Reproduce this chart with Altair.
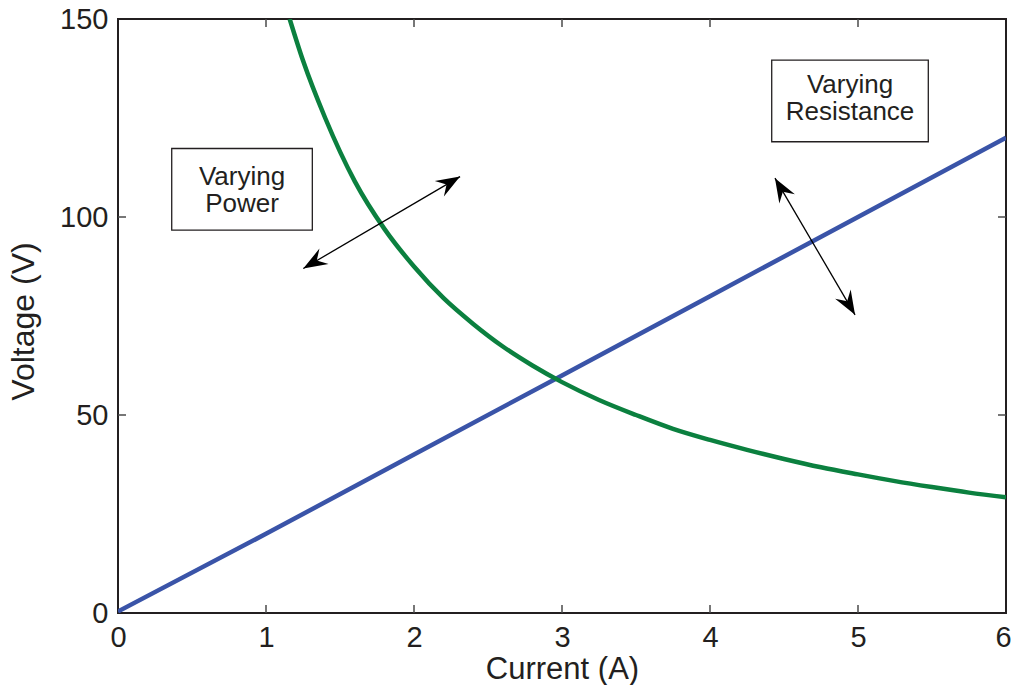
import math
import altair as alt
import pandas as pd

# ---- data ----
blue_current = [0, 1, 2, 3, 4, 5, 6]
blue_voltage = [0.4, 20, 40, 60, 80, 100, 120]

green_current = [1.16, 1.25, 1.4, 1.6, 1.8, 2.0, 2.2, 2.4, 2.6, 2.8, 3.0, 3.25, 3.5,
                 3.75, 4.0, 4.25, 4.5, 4.75, 5.0, 5.25, 5.5, 5.75, 6.0]
green_voltage = [150, 139.5, 125, 109, 97, 87.5, 79.5, 73, 67.3, 62.5, 58.3, 53.8, 50,
                 46.5, 43.7, 41.2, 38.9, 36.8, 35, 33.3, 31.8, 30.4, 29.2]

x_ticks = [0, 1, 2, 3, 4, 5, 6]
y_ticks = [0, 50, 100, 150]
x_inner_ticks = [1, 2, 3, 4, 5]
y_inner_ticks = [50, 100]

box_names = ["Varying Power", "Varying Resistance"]
box_x1 = [0.363, 4.417]
box_x2 = [1.313, 5.475]
box_y1 = [96.7, 119.0]
box_y2 = [117.3, 139.6]
label_x = [0.838, 4.946]
label_y = [108.1, 131.2]
label_lines = [["Varying", "Power"], ["Varying", "Resistance"]]

arrow_xa = [1.252, 4.439]
arrow_ya = [87.0, 109.8]
arrow_xb = [2.311, 4.980]
arrow_yb = [110.2, 75.3]

# ---- layout ----
W, H = 888, 594
XMAX, YMAX = 6, 150
INK = "#231f20"
FONT = "Liberation Sans"

xs = alt.Scale(domain=[0, XMAX], nice=False, zero=False)
ys = alt.Scale(domain=[0, YMAX], nice=False, zero=False)

blue_df = pd.DataFrame({"I": blue_current, "V": blue_voltage})
green_df = pd.DataFrame({"I": green_current, "V": green_voltage})

xaxis = alt.Axis(values=x_ticks, format="d", ticks=False, domain=False, grid=False,
                 labelFlush=False, labelOverlap=False,
                 labelOffset={"condition": {"test": f"datum.value == {XMAX}", "value": -3},
                              "value": 0},
                 labelFontSize=29, labelFont=FONT, labelColor=INK, labelPadding=10,
                 title="Current (A)", titleFontSize=31, titleFont=FONT,
                 titleFontWeight="normal", titleColor=INK,
                 titleBaseline="alphabetic", titleY=65)
yaxis = alt.Axis(values=y_ticks, format="d", ticks=False, domain=False, grid=False,
                 labelFlush=False, labelOverlap=False,
                 labelFontSize=29, labelFont=FONT, labelColor=INK, labelPadding=10,
                 title="Voltage (V)", titleFontSize=32, titleFont=FONT,
                 titleFontWeight="normal", titleColor=INK,
                 titleBaseline="alphabetic", titleX=-85, titleY=302)

blue = alt.Chart(blue_df).mark_line(color="#3a54a8", strokeWidth=4.5, clip=True).encode(
    x=alt.X("I:Q", scale=xs, axis=xaxis),
    y=alt.Y("V:Q", scale=ys, axis=yaxis),
)
green = alt.Chart(green_df).mark_line(color="#0b803f", strokeWidth=4.5, clip=True,
                                      interpolate="monotone").encode(
    x=alt.X("I:Q", scale=xs),
    y=alt.Y("V:Q", scale=ys),
)

# inward ticks (box style)
tx = pd.DataFrame({"t": x_inner_ticks})
ty = pd.DataFrame({"t": y_inner_ticks})
TL = 8
tick_style = dict(color="#4a4a4a", strokeWidth=1.5)
ticks_bottom = alt.Chart(tx).mark_rule(**tick_style).encode(
    x=alt.X("t:Q", scale=xs), y=alt.value(H), y2=alt.value(H - TL))
ticks_top = alt.Chart(tx).mark_rule(**tick_style).encode(
    x=alt.X("t:Q", scale=xs), y=alt.value(0), y2=alt.value(TL))
ticks_left = alt.Chart(ty).mark_rule(**tick_style).encode(
    y=alt.Y("t:Q", scale=ys), x=alt.value(0), x2=alt.value(TL))
ticks_right = alt.Chart(ty).mark_rule(**tick_style).encode(
    y=alt.Y("t:Q", scale=ys), x=alt.value(W), x2=alt.value(W - TL))

# annotation boxes
box_df = pd.DataFrame({"name": box_names, "x1": box_x1, "x2": box_x2,
                       "y1": box_y1, "y2": box_y2})
boxes = alt.Chart(box_df).mark_rect(fill="white", fillOpacity=0, stroke=INK,
                                    strokeWidth=1.3).encode(
    x=alt.X("x1:Q", scale=xs), x2="x2:Q",
    y=alt.Y("y1:Q", scale=ys), y2="y2:Q")

lab_df = pd.DataFrame({"x": label_x, "y": label_y, "txt": label_lines})
labels = alt.Chart(lab_df).mark_text(font=FONT, fontSize=26, color=INK, align="center",
                                     baseline="alphabetic", lineHeight=27).encode(
    x=alt.X("x:Q", scale=xs), y=alt.Y("y:Q", scale=ys), text="txt")

# double-headed arrows
arr_df = pd.DataFrame({"xa": arrow_xa, "ya": arrow_ya, "xb": arrow_xb, "yb": arrow_yb})
shafts = alt.Chart(arr_df).mark_rule(color="black", strokeWidth=1.3).encode(
    x=alt.X("xa:Q", scale=xs), y=alt.Y("ya:Q", scale=ys), x2="xb:Q", y2="yb:Q")

PXX, PXY = W / XMAX, H / YMAX


def head_angle(x_from, y_from, x_to, y_to):
    dx = (x_to - x_from) * PXX
    dy = -(y_to - y_from) * PXY
    return math.degrees(math.atan2(dx, -dy)) % 360


hx, hy, ha = [], [], []
for xa, ya, xb, yb in zip(arrow_xa, arrow_ya, arrow_xb, arrow_yb):
    hx += [xa, xb]
    hy += [ya, yb]
    ha += [head_angle(xb, yb, xa, ya), head_angle(xa, ya, xb, yb)]
head_df = pd.DataFrame({"x": hx, "y": hy, "a": ha})
HEAD = "M0,0 L0.75,2 L0,1.3 L-0.75,2 Z"
heads = alt.Chart(head_df).mark_point(shape=HEAD, filled=True, fill="black",
                                      strokeWidth=0, opacity=1, size=576).encode(
    x=alt.X("x:Q", scale=xs), y=alt.Y("y:Q", scale=ys),
    angle=alt.Angle("a:Q", scale=None))

chart = alt.layer(blue, green, ticks_bottom, ticks_top, ticks_left, ticks_right,
                  boxes, labels, shafts, heads).properties(
    width=W, height=H,
    background="white",
    autosize=alt.AutoSizeParams(type="none"),
    padding={"left": 110, "top": 11, "right": 5, "bottom": 72},
).configure_view(stroke=INK, strokeWidth=2)

chart.save("out.html", embed_options={"renderer": "svg", "actions": False})
